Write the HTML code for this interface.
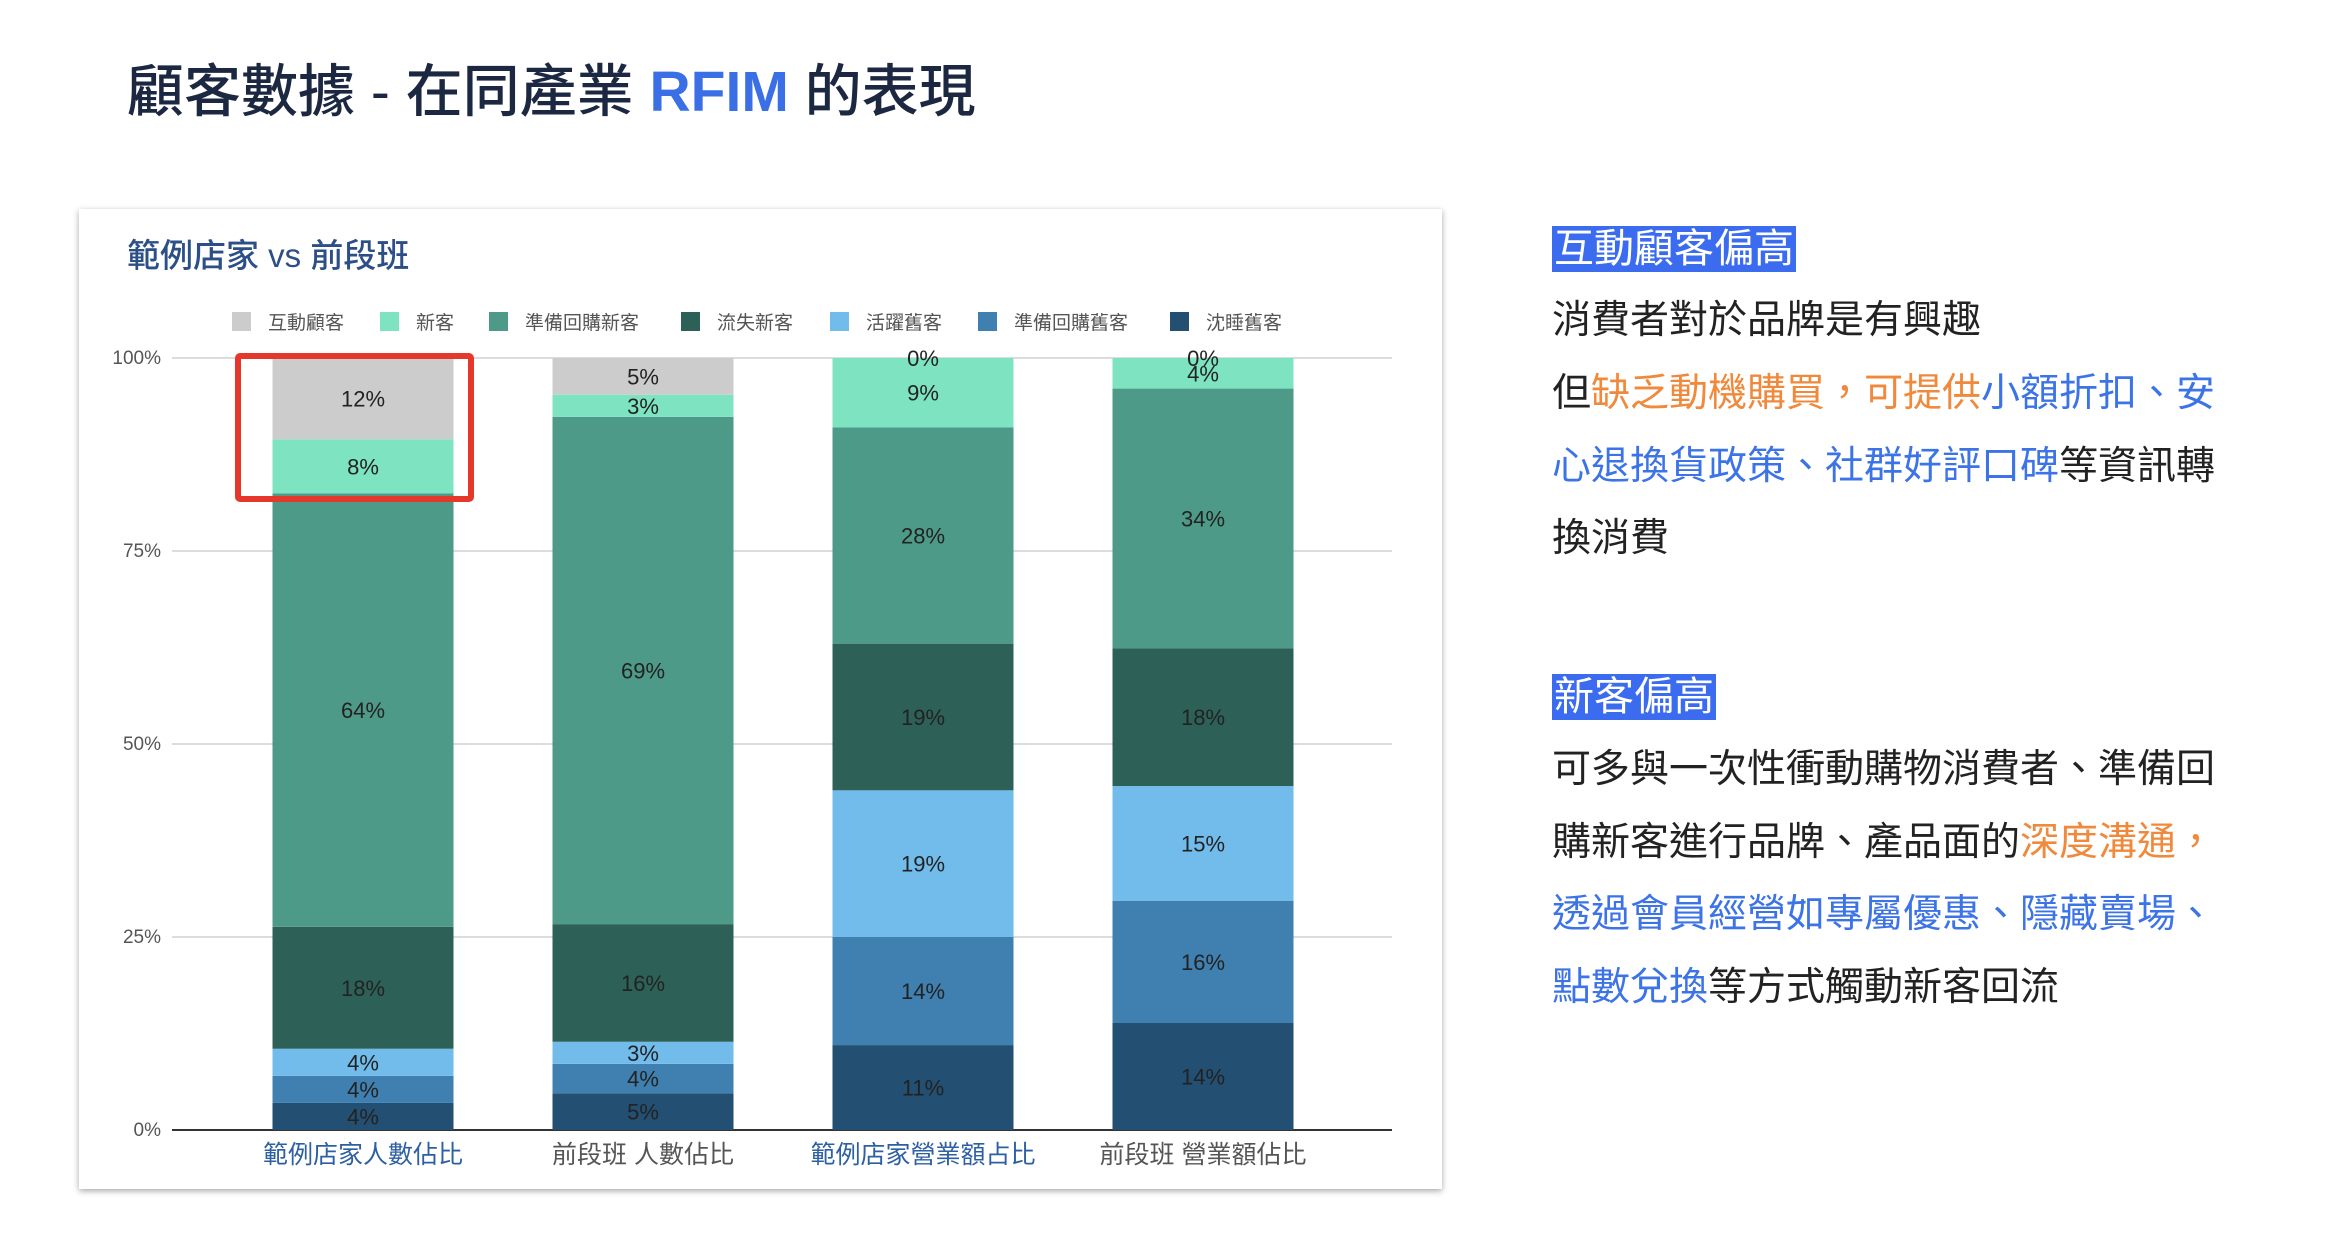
<!DOCTYPE html>
<html><head><meta charset="utf-8">
<style>
body{margin:0;width:2340px;height:1246px;background:#fff;position:relative;overflow:hidden;font-family:"Liberation Sans","Noto Sans CJK TC",sans-serif;}
.abs{position:absolute;white-space:nowrap;}
#title{left:127px;top:58px;font-size:57px;line-height:68px;color:#1c2842;font-weight:500;}
#title b{color:#3a6fe6;font-weight:bold;}
#card{left:79px;top:209px;width:1363px;height:980px;background:#fff;box-shadow:0 2px 6px rgba(0,0,0,0.35);}
.hd{background:#3b6cf0;color:#fff;font-size:40px;line-height:46px;padding:0 2px;}
.p{font-size:39px;color:#222;line-height:48px;}
.o{color:#f0893b;}.bl{color:#3c74e8;}
</style></head><body>
<div id="title" class="abs">顧客數據 - 在同產業 <b>RFIM</b> 的表現</div>
<div id="card" class="abs"></div>
<svg id="chart" class="abs" style="left:0;top:0" width="2340" height="1246"></svg>

<div class="abs hd" style="left:1552px;top:226px">互動顧客偏高</div>
<div class="abs p" style="left:1552px;top:297px">消費者對於品牌是有興趣</div>
<div class="abs p" style="left:1552px;top:370px">但<span class="o">缺乏動機購買，可提供</span><span class="bl">小額折扣、安</span></div>
<div class="abs p" style="left:1552px;top:443px"><span class="bl">心退換貨政策、社群好評口碑</span>等資訊轉</div>
<div class="abs p" style="left:1552px;top:515px">換消費</div>

<div class="abs hd" style="left:1552px;top:674px">新客偏高</div>
<div class="abs p" style="left:1552px;top:746px">可多與一次性衝動購物消費者、準備回</div>
<div class="abs p" style="left:1552px;top:819px">購新客進行品牌、產品面的<span class="o">深度溝通，</span></div>
<div class="abs p" style="left:1552px;top:891px"><span class="bl">透過會員經營如專屬優惠、隱藏賣場、</span></div>
<div class="abs p" style="left:1552px;top:964px"><span class="bl">點數兌換</span>等方式觸動新客回流</div>

<script>
const categories=["範例店家人數佔比","前段班 人數佔比","範例店家營業額占比","前段班 營業額佔比"];
const seriesNames=["沈睡舊客","準備回購舊客","活躍舊客","流失新客","準備回購新客","新客","互動顧客"];
const sleeping=[4,5,11,14];
const returningOld=[4,4,14,16];
const activeOld=[4,3,19,15];
const lostNew=[18,16,19,18];
const returningNew=[64,69,28,34];
const newCust=[8,3,9,4];
const interactive=[12,5,0,0];
const yTicks=[0,25,50,75,100];
const legendOrder=["互動顧客","新客","準備回購新客","流失新客","活躍舊客","準備回購舊客","沈睡舊客"];

const series=[sleeping,returningOld,activeOld,lostNew,returningNew,newCust,interactive];
const colors=["#234f72","#3f80b0","#72bcec","#2d6157","#4e9a88","#7de3c0","#cccccc"];
const NS="http://www.w3.org/2000/svg";
const svg=document.getElementById('chart');
function mk(t,a,p){const e=document.createElementNS(NS,t);for(const k in a)e.setAttribute(k,a[k]);(p||svg).appendChild(e);return e;}
const y0=1130,y1=358,xL=172,xR=1392;
const yScale=v=>y0-(v/100)*(y0-y1);
const xCenter=i=>363+i*280;
const bw=181;

let t=mk('text',{x:127,y:267,'font-size':33,fill:'#2b4f86','font-weight':'500'});


t.textContent='範例店家 vs 前段班';

// grid
yTicks.forEach(v=>{
  const l=mk('line',{x1:xL,x2:xR,y1:yScale(v),y2:yScale(v),stroke:v===0?'#333':'#d0d0d0','stroke-width':v===0?2:1.5});
  
  
  const tx=mk('text',{x:161,y:yScale(v)+6,'font-size':19,fill:'#555','text-anchor':'end'});
  
  
  tx.textContent=v+'%';
});

// legend
const legX=[232,380,489,681,830,978,1170];
legendOrder.forEach((n,i)=>{
  const si=seriesNames.indexOf(n);
  const r=mk('rect',{x:legX[i],y:312,width:19,height:19,fill:colors[si]});
  
  
  const tx=mk('text',{x:legX[i]+36,y:329,'font-size':19,fill:'#555'});
  
  
  tx.textContent=n;
});

// bars
categories.forEach((c,i)=>{
  const total=series.reduce((s,a)=>s+a[i],0);
  let acc=0;
  series.forEach((arr,si)=>{
    const v=arr[i]/total*100;
    const yt=yScale(acc+v),yb=yScale(acc);
    const r=mk('rect',{x:xCenter(i)-bw/2,y:yt,width:bw,height:Math.max(0,yb-yt),fill:colors[si]});
    
    
    const tx=mk('text',{x:xCenter(i),y:(yt+yb)/2+8,'font-size':22,fill:'#222','text-anchor':'middle'});
    
    
    tx.textContent=arr[i]+'%';
    acc+=v;
  });
  const lx=mk('text',{x:xCenter(i),y:1163,'font-size':25,fill:(i%2===0)?'#2d5fa3':'#555','text-anchor':'middle'});
  
  
  lx.textContent=c;
});

// highlight box
const hb=mk('rect',{x:238,y:356,width:233,height:143,fill:'none',stroke:'#e5382a','stroke-width':6,rx:2});


</script>
</body></html>
